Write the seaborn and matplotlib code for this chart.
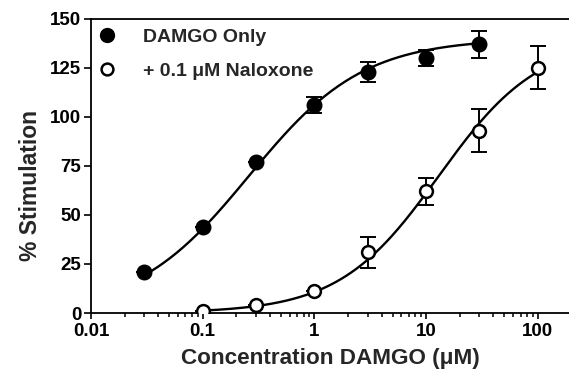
import numpy as np
import pandas as pd
import matplotlib
matplotlib.use('Agg')
from matplotlib import pyplot as plt
from matplotlib.lines import Line2D
import seaborn as sns

# measured points (concentration in uM, % stimulation, SEM)
conc_damgo = [0.03, 0.1, 0.3, 1, 3, 10, 30]
stim_damgo = [21, 44, 77, 106, 123, 130, 137]
err_damgo = [0, 0, 0, 4, 5, 4, 7]

conc_nal = [0.1, 0.3, 1, 3, 10, 30, 100]
stim_nal = [1, 4, 11, 31, 62, 93, 125]
err_nal = [0, 0, 0, 8, 7, 11, 11]

# fitted sigmoid parameters: top, EC50, Hill slope
fit_damgo = (140, 0.26, 0.85)
fit_nal = (140, 13, 0.97)

labels = ['DAMGO Only', '+ 0.1 \u03bcM Naloxone']
yticks = [0, 25, 50, 75, 100, 125, 150]
xticks = [0.01, 0.1, 1, 10, 100]
xticklabels = ['0.01', '0.1', '1', '10', '100']


def hill(x, top, ec50, n):
    return top / (1 + (ec50 / x) ** n)


sns.set_style('ticks')
plt.rcParams['font.family'] = ['Liberation Sans', 'DejaVu Sans']
plt.rcParams['font.weight'] = 'bold'

fig = plt.figure(figsize=(5.69, 3.70), dpi=100)
ax = fig.add_axes([0.16, 0.154, 0.84, 0.795])

# fitted curves
for conc, fit in [(conc_damgo, fit_damgo), (conc_nal, fit_nal)]:
    xs = np.logspace(np.log10(conc[0]), np.log10(conc[-1]), 200)
    curve = pd.DataFrame({'x': xs, 'y': hill(xs, *fit)})
    sns.lineplot(data=curve, x='x', y='y', color='black', linewidth=1.7, ax=ax, zorder=2)

# error bars
ax.errorbar(conc_damgo, stim_damgo, yerr=err_damgo, fmt='none', ecolor='black',
            elinewidth=1.4, capsize=5.5, capthick=1.4, zorder=3)
ax.errorbar(conc_nal, stim_nal, yerr=err_nal, fmt='none', ecolor='black',
            elinewidth=1.4, capsize=5.5, capthick=1.4, zorder=3)

# points
sns.scatterplot(x=conc_damgo, y=stim_damgo, color='black', edgecolor='black',
                s=110, linewidth=1, ax=ax, zorder=4)
sns.scatterplot(x=conc_nal, y=stim_nal, color='white', edgecolor='black',
                s=85, linewidth=1.8, ax=ax, zorder=4)

ax.set_xscale('log')
ax.set_xlim(0.01, 190)
ax.set_ylim(0, 150)
ax.set_xticks(xticks)
ax.set_xticklabels(xticklabels)
ax.set_yticks(yticks)
ax.tick_params(axis='both', which='major', labelsize=13.5, width=1.2, length=5,
               color='black', labelcolor='black', pad=2)
ax.tick_params(axis='x', which='minor', width=1.1, length=3, color='black')
ax.tick_params(axis='x', which='major', length=4, pad=3.5)

ax.set_xlabel('Concentration DAMGO (\u03bcM)', fontsize=16.2, fontweight='bold', labelpad=5.5)
ax.set_ylabel('% Stimulation', fontsize=16.5, fontweight='bold')
ax.yaxis.set_label_coords(-0.103, 0.435)

for side in ['left', 'bottom', 'top']:
    ax.spines[side].set_linewidth(1.3)
    ax.spines[side].set_color('black')
ax.spines['right'].set_visible(False)

handles = [
    Line2D([], [], linestyle='none', marker='o', markersize=10,
           markerfacecolor='black', markeredgecolor='black'),
    Line2D([], [], linestyle='none', marker='o', markersize=8.5,
           markerfacecolor='white', markeredgecolor='black', markeredgewidth=1.8),
]
ax.legend(handles, labels, loc='upper left', frameon=False,
          prop={'weight': 'bold', 'size': 14}, labelspacing=0.85,
          handlelength=1.0, handletextpad=1.36, borderpad=0.33, borderaxespad=0.0,
          bbox_to_anchor=(0.0, 0.99))

fig.savefig('out.png', dpi=100, facecolor='white')
